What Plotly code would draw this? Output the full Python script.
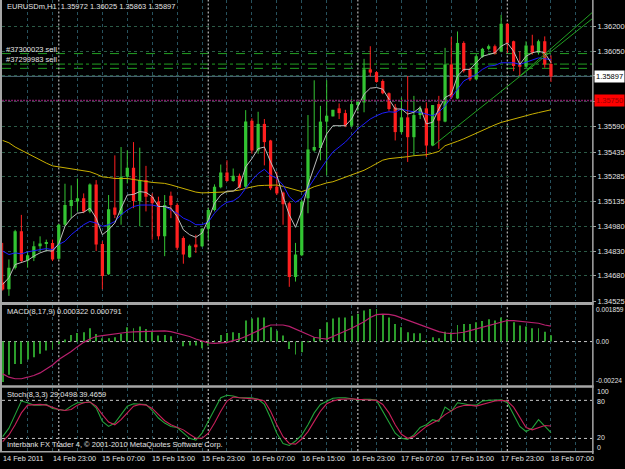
import plotly.graph_objects as go

# ------------------------------------------------------------------ data
symbol = "EURUSDm,H1"
tick_bars = [0, 8, 16, 24, 32, 40, 48, 56, 64, 72, 80, 88]
tick_labels = ["14 Feb 2011", "14 Feb 23:00", "15 Feb 07:00", "15 Feb 15:00",
               "15 Feb 23:00", "16 Feb 07:00", "16 Feb 15:00", "16 Feb 23:00",
               "17 Feb 07:00", "17 Feb 15:00", "17 Feb 23:00", "18 Feb 07:00"]
grid_bars = list(range(0, 93, 4))
day_sep_bars = [9, 33, 57, 81]

open_ = [1.34639, 1.34598, 1.34730, 1.34952, 1.34774, 1.34790, 1.34861, 1.34875, 1.34881, 1.34784,
         1.34992, 1.35106, 1.35133, 1.35153, 1.35073, 1.35238, 1.34875, 1.34689, 1.35097, 1.35052,
         1.35284, 1.35339, 1.35137, 1.35264, 1.35163, 1.35133, 1.34921, 1.35169, 1.35112, 1.34911,
         1.34794, 1.34871, 1.34861, 1.34967, 1.35082, 1.35220, 1.35310, 1.35258, 1.35290, 1.35224,
         1.35627, 1.35445, 1.35607, 1.35506, 1.35224, 1.35188, 1.35123, 1.34673, 1.34806, 1.35153,
         1.35445, 1.35460, 1.35621, 1.35653, 1.35702, 1.35673, 1.35596, 1.35722, 1.35738, 1.35940,
         1.35923, 1.35869, 1.35794, 1.35708, 1.35557, 1.35647, 1.35526, 1.35661, 1.35702, 1.35475,
         1.35728, 1.35621, 1.35970, 1.35762, 1.36101, 1.35940, 1.35879, 1.36016, 1.36065, 1.36081,
         1.36050, 1.36218, 1.36111, 1.35970, 1.35956, 1.36085, 1.36041, 1.36111, 1.35972]
high = [1.34881, 1.34780, 1.34961, 1.35052, 1.34831, 1.34891, 1.34921, 1.34901, 1.34901, 1.34996,
        1.35242, 1.35232, 1.35274, 1.35183, 1.35244, 1.35264, 1.34891, 1.35173, 1.35415, 1.35466,
        1.35445, 1.35496, 1.35462, 1.35351, 1.35183, 1.35163, 1.35173, 1.35194, 1.35123, 1.34921,
        1.34871, 1.34931, 1.34972, 1.35093, 1.35238, 1.35359, 1.35385, 1.35335, 1.35304, 1.35691,
        1.35641, 1.35681, 1.35637, 1.35510, 1.35315, 1.35194, 1.35133, 1.34881, 1.35143, 1.35661,
        1.35873, 1.35717, 1.35873, 1.35693, 1.35732, 1.35693, 1.35758, 1.35742, 1.36004, 1.36081,
        1.35929, 1.35879, 1.35799, 1.35728, 1.35768, 1.35899, 1.35778, 1.35717, 1.35738, 1.35722,
        1.35778, 1.36071, 1.36137, 1.36171, 1.36111, 1.35950, 1.36030, 1.36071, 1.36091, 1.36091,
        1.36272, 1.36222, 1.36115, 1.36050, 1.36111, 1.36151, 1.36121, 1.36141, 1.36025]
low = [1.34590, 1.34558, 1.34719, 1.34760, 1.34730, 1.34770, 1.34831, 1.34831, 1.34770, 1.34780,
       1.34982, 1.35032, 1.35073, 1.35062, 1.35062, 1.34831, 1.34598, 1.34685, 1.35032, 1.34992,
       1.35244, 1.35093, 1.34982, 1.35073, 1.34901, 1.34901, 1.34800, 1.35032, 1.34838, 1.34754,
       1.34790, 1.34820, 1.34855, 1.34901, 1.35073, 1.35214, 1.35254, 1.35254, 1.35214, 1.35214,
       1.35425, 1.35425, 1.35354, 1.35203, 1.35173, 1.34992, 1.34613, 1.34645, 1.34800, 1.35062,
       1.35437, 1.35385, 1.35294, 1.35652, 1.35637, 1.35587, 1.35587, 1.35687, 1.35678, 1.35895,
       1.35859, 1.35788, 1.35687, 1.35506, 1.35546, 1.35375, 1.35415, 1.35637, 1.35405, 1.35472,
       1.35455, 1.35617, 1.35758, 1.35758, 1.35920, 1.35869, 1.35875, 1.36010, 1.36056, 1.36030,
       1.36044, 1.36041, 1.35929, 1.35899, 1.35950, 1.36030, 1.36030, 1.35950, 1.35863]
close = [1.34596, 1.34730, 1.34952, 1.34770, 1.34806, 1.34861, 1.34877, 1.34887, 1.34780, 1.34992,
         1.35112, 1.35143, 1.35153, 1.35073, 1.35238, 1.34871, 1.34679, 1.35086, 1.35052, 1.35284,
         1.35339, 1.35137, 1.35264, 1.35163, 1.35123, 1.34921, 1.35112, 1.35112, 1.34851, 1.34810,
         1.34864, 1.34855, 1.34967, 1.35082, 1.35224, 1.35310, 1.35258, 1.35290, 1.35218, 1.35621,
         1.35445, 1.35607, 1.35496, 1.35214, 1.35183, 1.35117, 1.34673, 1.34810, 1.35133, 1.35451,
         1.35466, 1.35621, 1.35657, 1.35693, 1.35673, 1.35596, 1.35728, 1.35742, 1.35940, 1.35920,
         1.35863, 1.35794, 1.35698, 1.35557, 1.35647, 1.35526, 1.35661, 1.35702, 1.35475, 1.35722,
         1.35627, 1.35970, 1.35768, 1.36101, 1.35929, 1.35879, 1.36020, 1.36065, 1.36081, 1.36036,
         1.36218, 1.36101, 1.35960, 1.35956, 1.36085, 1.36041, 1.36111, 1.35970, 1.35897]

ma_fast = [1.34628, 1.34669, 1.34749, 1.34760, 1.34774, 1.34800, 1.34820, 1.34834, 1.34831, 1.34875,
           1.34982, 1.35032, 1.35062, 1.35068, 1.35093, 1.35032, 1.34931, 1.34961, 1.35002, 1.35093,
           1.35173, 1.35177, 1.35194, 1.35189, 1.35163, 1.35103, 1.35103, 1.35093, 1.35042, 1.34961,
           1.34931, 1.34915, 1.34941, 1.35022, 1.35123, 1.35173, 1.35197, 1.35197, 1.35224, 1.35345,
           1.35395, 1.35456, 1.35466, 1.35375, 1.35294, 1.35163, 1.35052, 1.34976, 1.35076, 1.35234,
           1.35345, 1.35456, 1.35546, 1.35596, 1.35596, 1.35596, 1.35637, 1.35717, 1.35788, 1.35825,
           1.35829, 1.35819, 1.35758, 1.35698, 1.35698, 1.35667, 1.35678, 1.35708, 1.35607, 1.35617,
           1.35698, 1.35768, 1.35788, 1.35899, 1.35940, 1.35940, 1.35980, 1.36020, 1.36030, 1.36041,
           1.36081, 1.36101, 1.36050, 1.35970, 1.36020, 1.36041, 1.36050, 1.36041, 1.35980]
ma_mid = [1.34831, 1.34810, 1.34820, 1.34814, 1.34826, 1.34831, 1.34840, 1.34846, 1.34840, 1.34871,
          1.34891, 1.34931, 1.34961, 1.34992, 1.35012, 1.35002, 1.34982, 1.34992, 1.35012, 1.35052,
          1.35082, 1.35103, 1.35112, 1.35112, 1.35112, 1.35103, 1.35103, 1.35082, 1.35062, 1.35032,
          1.35016, 1.34992, 1.34992, 1.35008, 1.35062, 1.35103, 1.35129, 1.35137, 1.35163, 1.35214,
          1.35264, 1.35304, 1.35330, 1.35294, 1.35274, 1.35234, 1.35163, 1.35129, 1.35153, 1.35214,
          1.35274, 1.35330, 1.35385, 1.35436, 1.35466, 1.35496, 1.35536, 1.35577, 1.35607, 1.35637,
          1.35657, 1.35673, 1.35681, 1.35678, 1.35698, 1.35687, 1.35681, 1.35678, 1.35667, 1.35657,
          1.35678, 1.35717, 1.35768, 1.35819, 1.35869, 1.35889, 1.35909, 1.35940, 1.35960, 1.35964,
          1.35980, 1.35980, 1.35980, 1.35970, 1.35984, 1.36000, 1.36010, 1.36004, 1.36000]
ma_slow = [1.35506, 1.35492, 1.35466, 1.35446, 1.35425, 1.35404, 1.35385, 1.35368, 1.35351, 1.35345,
           1.35338, 1.35330, 1.35324, 1.35319, 1.35315, 1.35301, 1.35284, 1.35280, 1.35274, 1.35274,
           1.35274, 1.35268, 1.35264, 1.35256, 1.35250, 1.35247, 1.35244, 1.35235, 1.35224, 1.35212,
           1.35200, 1.35191, 1.35186, 1.35188, 1.35188, 1.35188, 1.35192, 1.35198, 1.35203, 1.35214,
           1.35223, 1.35230, 1.35232, 1.35234, 1.35234, 1.35226, 1.35214, 1.35203, 1.35194, 1.35207,
           1.35224, 1.35235, 1.35247, 1.35254, 1.35268, 1.35280, 1.35294, 1.35310, 1.35324, 1.35344,
           1.35365, 1.35386, 1.35395, 1.35398, 1.35401, 1.35407, 1.35413, 1.35416, 1.35419, 1.35428,
           1.35439, 1.35474, 1.35486, 1.35501, 1.35516, 1.35534, 1.35549, 1.35566, 1.35583, 1.35601,
           1.35616, 1.35627, 1.35637, 1.35646, 1.35657, 1.35667, 1.35676, 1.35685, 1.35693]

macd_main = [-0.00208, -0.00171, -0.00115, -0.00115, -0.00092, -0.00080, -0.00063, -0.00046, -0.00041, -0.00012,
             0.00010, 0.00034, 0.00044, 0.00048, 0.00068, 0.00039, 0.00017, 0.00017, 0.00022, 0.00039,
             0.00073, 0.00068, 0.00078, 0.00065, 0.00051, 0.00031, 0.00034, 0.00027, 0.00000, -0.00024,
             -0.00020, -0.00020, -0.00034, -0.00020, 0.00002, 0.00034, 0.00044, 0.00048, 0.00044, 0.00108,
             0.00119, 0.00124, 0.00124, 0.00073, 0.00056, 0.00031, -0.00038, -0.00066, -0.00055, -0.00002,
             0.00022, 0.00065, 0.00099, 0.00119, 0.00124, 0.00124, 0.00133, 0.00141, 0.00159, 0.00167,
             0.00167, 0.00141, 0.00124, 0.00090, 0.00073, 0.00048, 0.00043, 0.00043, 0.00005, 0.00022,
             0.00017, 0.00051, 0.00048, 0.00085, 0.00090, 0.00090, 0.00099, 0.00105, 0.00114, 0.00108,
             0.00124, 0.00114, 0.00099, 0.00082, 0.00077, 0.00068, 0.00068, 0.00051, 0.000322]
macd_signal = [-0.00166, -0.00183, -0.00191, -0.00191, -0.00183, -0.00174, -0.00161, -0.00140, -0.00120, -0.00092,
               -0.00072, -0.00051, -0.00026, -0.00004, 0.00013, 0.00026, 0.00031, 0.00036, 0.00039, 0.00043,
               0.00048, 0.00050, 0.00051, 0.00053, 0.00053, 0.00053, 0.00055, 0.00051, 0.00043, 0.00034,
               0.00026, 0.00013, 0.00002, -0.00007, -0.00009, -0.00007, -0.00004, 0.00005, 0.00013, 0.00026,
               0.00039, 0.00056, 0.00073, 0.00085, 0.00085, 0.00085, 0.00078, 0.00065, 0.00051, 0.00036,
               0.00022, 0.00017, 0.00013, 0.00026, 0.00039, 0.00051, 0.00068, 0.00085, 0.00102, 0.00124,
               0.00138, 0.00141, 0.00140, 0.00133, 0.00121, 0.00108, 0.00095, 0.00085, 0.00073, 0.00061,
               0.00051, 0.00044, 0.00041, 0.00044, 0.00048, 0.00056, 0.00065, 0.00073, 0.00085, 0.00094,
               0.00102, 0.00108, 0.00108, 0.00104, 0.00099, 0.00095, 0.00094, 0.00085, 0.000791]

stoch_k = [22.8, 36.2, 57.5, 78.9, 76.2, 72.5, 72.5, 73.6, 67.2, 65.6,
           64.0, 70.9, 76.2, 76.2, 77.8, 68.2, 46.9, 38.9, 44.2, 57.5,
           70.9, 74.6, 74.6, 73.6, 64.0, 52.2, 44.2, 38.9, 37.2, 28.2,
           20.2, 17.5, 28.2, 46.9, 65.6, 84.2, 88.0, 86.9, 84.2, 84.2,
           84.2, 81.6, 73.6, 52.2, 28.2, 12.1, 9.0, 15.9, 25.5, 41.5,
           60.2, 73.6, 78.9, 83.2, 84.2, 84.2, 82.6, 80.5, 81.6, 81.6,
           80.0, 62.9, 46.9, 28.2, 20.2, 18.6, 25.5, 37.2, 41.5, 49.5,
           46.9, 69.3, 62.9, 76.2, 74.6, 72.5, 72.5, 78.9, 80.0, 80.0,
           81.0, 76.2, 57.5, 38.9, 30.9, 36.2, 49.5, 38.9, 29.0498]
stoch_d = [14.8, 25.5, 41.5, 60.2, 72.5, 73.6, 73.6, 72.5, 69.3, 65.6,
           64.0, 65.6, 72.5, 76.2, 77.3, 70.9, 57.5, 45.8, 41.5, 49.5,
           60.2, 70.9, 73.6, 72.5, 67.2, 57.5, 47.9, 41.5, 37.2, 33.5,
           26.6, 20.2, 20.2, 28.2, 44.2, 62.9, 78.9, 85.3, 84.2, 83.2,
           83.2, 81.6, 78.9, 62.9, 41.5, 22.8, 12.1, 11.0, 19.1, 30.8,
           46.9, 62.9, 74.6, 78.9, 81.6, 82.6, 82.6, 81.6, 80.5, 80.5,
           80.0, 73.6, 60.2, 41.5, 26.6, 20.2, 22.8, 30.8, 38.9, 44.2,
           49.5, 57.5, 64.0, 69.3, 72.0, 72.5, 70.9, 73.6, 76.2, 78.9,
           80.0, 78.9, 69.3, 52.2, 37.2, 33.5, 37.2, 40.4, 39.4659]

price_ticks = [1.36200, 1.36050, 1.35900, 1.35745, 1.35590, 1.35435,
               1.35285, 1.35135, 1.34980, 1.34830, 1.34680, 1.34525]
price_tick_text = ["1.36200", "1.36050", "", "", "1.35590", "1.35435",
                   "1.35285", "1.35135", "1.34980", "1.34830", "1.34680", "1.34525"]
price_range = [1.34524, 1.36363]
macd_range = [-0.00224, 0.001859]
macd_labels = ["0.001859", "0.00", "-0.00224"]
stoch_levels = [80, 20]
stoch_labels = ["100", "80", "20", "0"]

orders = [("#37300023 sell", 1.36036), ("#37299983 sell", 1.35972)]
order_extra_level = 1.35946
alert_level = 1.35750
trend_start_bar = [69, 83]
trend_start_price = [1.35472, 1.35899]
trend_end_bar = [94.6, 94.6]
trend_end_price = [1.36248, 1.36286]

# ------------------------------------------------------------------ styling
W, H = 625, 469
def px(x): return x / W
def py(y): return 1 - y / H

GREEN = "#33c433"
RED = "#ff2020"
FONT = "Liberation Sans"
TXT = "#e2e2e2"
HGRID = "#2b5a46"
VGRID = "#27525e"
X_RANGE = [-0.11, 94.6]
XD = [px(2), px(594)]
D_MAIN = [py(304), 1.0]
D_MACD = [py(388.5), py(308)]
D_STO = [py(455), py(391)]

N = len(close)
idx = list(range(N))
fig = go.Figure()

up = [i for i in idx if close[i] >= open_[i]]
dn = [i for i in idx if close[i] < open_[i]]
for ids, col in ((up, GREEN), (dn, RED)):
    xs, ys = [], []
    for i in ids:
        xs += [i, i, None]
        ys += [low[i], high[i], None]
    fig.add_trace(go.Scatter(x=xs, y=ys, mode="lines", line=dict(color=col, width=1),
                             xaxis="x", yaxis="y", hoverinfo="skip", showlegend=False))
    fig.add_trace(go.Bar(x=ids, base=[min(open_[i], close[i]) for i in ids],
                         y=[max(abs(close[i] - open_[i]), 0.00002) for i in ids],
                         width=0.52, marker=dict(color=col, line=dict(width=0)),
                         xaxis="x", yaxis="y", hoverinfo="skip", showlegend=False))

for arr, col in ((ma_slow, "#c9b000"), (ma_mid, "#1d1dff"), (ma_fast, "#bdbdbd")):
    fig.add_trace(go.Scatter(x=idx, y=arr, mode="lines", line=dict(color=col, width=1),
                             xaxis="x", yaxis="y", hoverinfo="skip", showlegend=False))

# trend lines
for k in range(len(trend_start_bar)):
    fig.add_trace(go.Scatter(x=[trend_start_bar[k], trend_end_bar[k]],
                             y=[trend_start_price[k], trend_end_price[k]], mode="lines",
                             line=dict(color="#22a022", width=1), xaxis="x", yaxis="y",
                             hoverinfo="skip", showlegend=False))

# MACD
fig.add_trace(go.Bar(x=idx, y=macd_main, width=0.15, marker=dict(color="#2c9e2c", line=dict(width=0)),
                     xaxis="x2", yaxis="y2", hoverinfo="skip", showlegend=False))
fig.add_trace(go.Scatter(x=idx, y=macd_signal, mode="lines", line=dict(color="#b8206e", width=1.2),
                         xaxis="x2", yaxis="y2", hoverinfo="skip", showlegend=False))
# Stochastic
fig.add_trace(go.Scatter(x=idx, y=stoch_k, mode="lines", line=dict(color="#23a23a", width=1.1),
                         xaxis="x3", yaxis="y3", hoverinfo="skip", showlegend=False))
fig.add_trace(go.Scatter(x=idx, y=stoch_d, mode="lines", line=dict(color="#c8205a", width=1.1),
                         xaxis="x3", yaxis="y3", hoverinfo="skip", showlegend=False))

shapes = []
# order lines / levels on main chart
for (_, lvl), dash in zip(orders, ["dash", "dashdot"]):
    shapes.append(dict(type="line", xref="paper", yref="y", x0=XD[0], x1=XD[1], y0=lvl, y1=lvl,
                       line=dict(color="#22a022", width=1, dash=dash), layer="below"))
shapes.append(dict(type="line", xref="paper", yref="y", x0=XD[0], x1=XD[1],
                   y0=order_extra_level, y1=order_extra_level,
                   line=dict(color="#22a022", width=1, dash="dash"), layer="below"))
shapes.append(dict(type="line", xref="paper", yref="y", x0=XD[0], x1=XD[1],
                   y0=close[-1], y1=close[-1], line=dict(color="#4e6e7c", width=1), layer="below"))
shapes.append(dict(type="line", xref="paper", yref="y", x0=XD[0], x1=XD[1],
                   y0=alert_level, y1=alert_level, line=dict(color="#7e1c66", width=1.6, dash="2px,1px")))
# MACD zero and stoch levels
shapes.append(dict(type="line", xref="paper", yref="y2", x0=XD[0], x1=XD[1], y0=0, y1=0,
                   line=dict(color="#c8c8c8", width=1, dash="3px,3px"), layer="below"))
for lv in stoch_levels:
    shapes.append(dict(type="line", xref="paper", yref="y3", x0=XD[0], x1=XD[1], y0=lv, y1=lv,
                       line=dict(color="#c8c8c8", width=1, dash="3px,3px"), layer="below"))
# day separators
for b in day_sep_bars:
    for dom in (D_MAIN, D_MACD, D_STO):
        shapes.append(dict(type="line", xref="x", yref="paper", x0=b, x1=b, y0=dom[0], y1=dom[1],
                           line=dict(color="#a8a8a8", width=1.3, dash="2px,2px"), layer="below"))
# window frame / separators
frame = "#a6a6a6"
shapes.append(dict(type="rect", xref="paper", yref="paper", x0=px(0), x1=px(2), y0=py(456), y1=1,
                   fillcolor=frame, line=dict(width=0)))
shapes.append(dict(type="rect", xref="paper", yref="paper", x0=px(594), x1=px(595.5), y0=py(458), y1=1,
                   fillcolor=frame, line=dict(width=0)))
for y0, y1 in ((304.5, 307.5), (388.5, 391), (455, 456.5)):
    shapes.append(dict(type="rect", xref="paper", yref="paper", x0=px(0), x1=px(595.5),
                       y0=py(y1), y1=py(y0), fillcolor=frame, line=dict(width=0)))

ann = []
def text(x, y, s, **kw):
    d = dict(x=x, y=y, xref="paper", yref="paper", text=s, showarrow=False, xanchor="left",
             yanchor="middle", font=dict(family=FONT, size=7.5, color=TXT))
    d.update(kw)
    ann.append(d)

text(px(5), py(7), f"{symbol}  {open_[-1]:.5f} {high[-1]:.5f} {low[-1]:.5f} {close[-1]:.5f}")
for name, lvl in orders:
    ann.append(dict(x=px(5), y=lvl, xref="paper", yref="y", text=name, showarrow=False,
                    xanchor="left", yanchor="bottom", yshift=-1, borderpad=0,
                    font=dict(family=FONT, size=7.5, color=TXT)))
text(px(5), py(314), f"MACD(8,17,9) {macd_main[-1]:.6f} {macd_signal[-1]:.6f}")
text(px(5), py(398), f"Stoch(8,3,3) {stoch_k[-1]:.4f} {stoch_d[-1]:.4f}")
text(px(5), py(448), "Interbank FX Trader 4, \u00a9 2001-2010 MetaQuotes Software Corp.")

# price label boxes
ann.append(dict(x=px(596), y=close[-1], xref="paper", yref="y", text=f"{close[-1]:.5f}",
                showarrow=False, xanchor="left", yanchor="middle", bgcolor="#ffffff",
                borderpad=1, font=dict(family=FONT, size=7.5, color="#000000")))
ann.append(dict(x=px(596), y=alert_level, xref="paper", yref="y", text=f"{alert_level:.5f}",
                showarrow=False, xanchor="left", yanchor="middle", bgcolor="#ff0000",
                borderpad=1, font=dict(family=FONT, size=7.5, color="#960000")))
# MACD scale labels
for lab, yv, anc in zip(macd_labels, [macd_range[1], 0, macd_range[0]], ["top", "middle", "bottom"]):
    ann.append(dict(x=px(596.5), y=yv, xref="paper", yref="y2", text=lab, showarrow=False,
                    xanchor="left", yanchor=anc, borderpad=0,
                    font=dict(family=FONT, size=6.6, color=TXT)))
# Stoch scale labels
for lab, yv, anc, sh in zip(stoch_labels, [100, 80, 20, 0],
                            ["top", "middle", "middle", "bottom"], [1, -1, 1, -1]):
    ann.append(dict(x=px(598), y=yv, xref="paper", yref="y3", text=lab, showarrow=False,
                    xanchor="left", yanchor=anc, yshift=sh, borderpad=0,
                    font=dict(family=FONT, size=7, color=TXT)))
# time labels
for b, lab in zip(tick_bars, tick_labels):
    ann.append(dict(x=b, y=py(462.5), xref="x", yref="paper", text=lab, showarrow=False,
                    xanchor="left", yanchor="middle", xshift=-2,
                    font=dict(family=FONT, size=7.3, color=TXT)))

xcommon = dict(range=X_RANGE, domain=XD, showticklabels=False, zeroline=False, showline=False,
               tickvals=grid_bars, showgrid=True, gridcolor=VGRID, gridwidth=1, griddash="3px,3px",
               ticks="", fixedrange=True)
fig.update_layout(
    width=W, height=H, margin=dict(l=0, r=0, t=0, b=0),
    paper_bgcolor="#000000", plot_bgcolor="#000000",
    barmode="overlay", hovermode=False, showlegend=False,
    xaxis=dict(anchor="y", **xcommon),
    xaxis2=dict(anchor="y2", matches="x", **xcommon),
    xaxis3=dict(anchor="y3", matches="x", **xcommon),
    yaxis=dict(domain=D_MAIN, range=price_range, side="right", anchor="x",
               tickvals=price_ticks, ticktext=price_tick_text, ticks="outside", ticklen=3,
               tickcolor="#a0a0a0", tickfont=dict(family=FONT, size=7.5, color=TXT),
               showgrid=True, gridcolor=HGRID, griddash="3px,3px", zeroline=False, showline=False),
    yaxis2=dict(domain=D_MACD, range=macd_range, side="right", anchor="x2", showticklabels=False,
                showgrid=False, zeroline=False, showline=False),
    yaxis3=dict(domain=D_STO, range=[0, 100], side="right", anchor="x3", showticklabels=False,
                showgrid=False, zeroline=False, showline=False),
    shapes=shapes, annotations=ann,
)

fig.write_html("out.html")
